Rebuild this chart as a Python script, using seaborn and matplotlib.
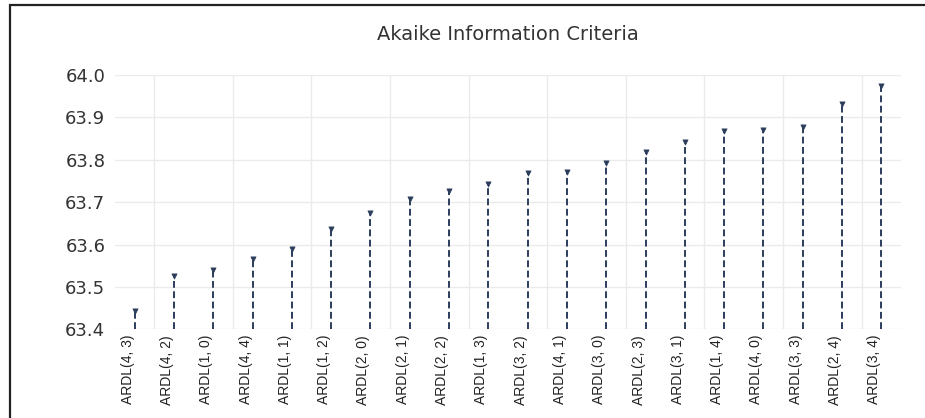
import numpy as np
import pandas as pd
import matplotlib.pyplot as plt
import seaborn as sns
from matplotlib.patches import Rectangle

# model orders, sorted by AIC as in the original output
models = ['ARDL(4, 3)', 'ARDL(4, 2)', 'ARDL(1, 0)', 'ARDL(4, 4)', 'ARDL(1, 1)',
          'ARDL(1, 2)', 'ARDL(2, 0)', 'ARDL(2, 1)', 'ARDL(2, 2)', 'ARDL(1, 3)',
          'ARDL(3, 2)', 'ARDL(4, 1)', 'ARDL(3, 0)', 'ARDL(2, 3)', 'ARDL(3, 1)',
          'ARDL(1, 4)', 'ARDL(4, 0)', 'ARDL(3, 3)', 'ARDL(2, 4)', 'ARDL(3, 4)']
aic = [63.443, 63.526, 63.540, 63.566, 63.589,
       63.636, 63.675, 63.708, 63.726, 63.742,
       63.770, 63.772, 63.793, 63.819, 63.841,
       63.868, 63.870, 63.878, 63.931, 63.975]
yticks = [63.4, 63.5, 63.6, 63.7, 63.8, 63.9, 64.0]
base = 63.4

df = pd.DataFrame({'model': models, 'aic': aic})

sns.set_style('white')
plt.rcParams['font.family'] = ['DejaVu Sans']

fig = plt.figure(figsize=(9.25, 4.18), dpi=100)
ax = fig.add_axes([0.1243, 0.212, 0.8497, 0.6086])

stem_col = '#2b3d5b'
pos = np.arange(len(df))
ax.vlines(pos, base, df['aic'], colors=stem_col, linestyles=(0, (3.5, 1.8)),
          linewidth=1.4, zorder=3)
sns.scatterplot(data=df, x='model', y='aic', marker='v', s=14, color=stem_col,
                edgecolor=stem_col, linewidth=0.5, ax=ax, zorder=4)

ax.set_xlim(-0.5, len(df) - 0.5)
ax.set_ylim(base, 64.0)
ax.set_yticks(yticks)
ax.set_yticklabels([f'{v:.1f}' for v in yticks], fontsize=13, color='#333333')
ax.set_xticks(pos)
ax.set_xticklabels(df['model'], rotation=90, ha='right', fontsize=10,
                   family='Liberation Sans', color='#222222')
ax.set_xticks(np.arange(0.5, len(df) - 1, 2), minor=True)
ax.tick_params(axis='both', which='both', length=0)
ax.tick_params(axis='y', pad=7)
ax.tick_params(axis='x', pad=4)
ax.grid(axis='y', which='major', color='#ebebeb', linewidth=1)
ax.grid(axis='x', which='minor', color='#ebebeb', linewidth=1)
ax.set_axisbelow(True)
for s in ax.spines.values():
    s.set_visible(False)
ax.set_xlabel('')
ax.set_ylabel('')
ax.set_title('Akaike Information Criteria', fontsize=14, color='#333333', pad=25)

# outer frame of the original screenshot
fig.patches.append(Rectangle((10 / 925, -0.05), 1.05, 1 - 5 / 418 + 0.05,
                             transform=fig.transFigure, fill=False,
                             edgecolor='#222222', linewidth=1.6))

fig.savefig('out.png', dpi=100)
